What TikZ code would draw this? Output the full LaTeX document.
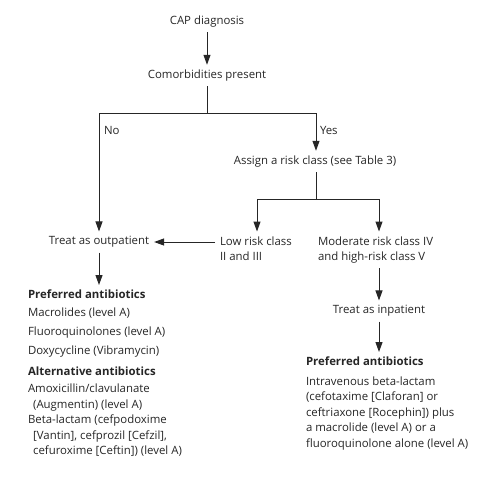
\documentclass[tikz,border=0pt]{standalone}
\usepackage{fontspec}
\setmainfont{Open Sans}
\usepackage{tikz}
\usetikzlibrary{arrows.meta,calc,positioning}
\definecolor{Ink}{HTML}{262626}

\begin{document}
\begin{tikzpicture}[x=1pt,y=-1pt,
    label text/.style={font=\fontsize{11.4}{15.5}\selectfont,text=Ink,inner sep=0pt,outer sep=0pt},
    step text/.style={label text,outer sep=5pt},
    block text/.style={label text,align=left,anchor=north west,outer sep=5pt},
    flow/.style={draw=Ink,line width=1pt,-{Triangle[length=10pt,width=7pt]}},
    link/.style={draw=Ink,line width=1pt}]
  \useasboundingbox (0,0) rectangle (500,479);

  \node[step text] (cap) at (207,21.5) {CAP diagnosis};
  \node[step text] (como) at (207,75.5) {Comorbidities present};
  \coordinate (split) at (207,113);
  \coordinate (noturn) at (99,113);
  \coordinate (yesturn) at (316,113);
  \node[label text,anchor=west] (no) at (104,130.5) {No};
  \node[label text,anchor=west] (yes) at (320,130.5) {Yes};
  \node[step text] (risk) at (315,161.5) {Assign a risk class (see Table 3)};
  \coordinate (riskfork) at (316,199);
  \coordinate (lowturn) at (257,199);
  \coordinate (modturn) at (379,199);

  \node[block text] (low) at (215,231.5) {Low risk class\\II and III};
  \node[block text] (mod) at (313,231.5) {Moderate risk class IV\\and high-risk class V};
  \node[step text] (outp) at (99,242) {Treat as outpatient};
  \node[step text] (inpat) at (379,311) {Treat as inpatient};

  \node[block text] (prefL) at (23,285)
    {\textbf{Preferred antibiotics}\\[2.5pt]
     Macrolides (level A)\\[3.5pt]
     Fluoroquinolones (level A)\\[3.5pt]
     Doxycycline (Vibramycin)\\[5.5pt]
     \textbf{Alternative antibiotics}\\[1.5pt]
     Amoxicillin/clavulanate\\
     \hspace*{0.45em}(Augmentin) (level A)\\
     Beta-lactam (cefpodoxime\\
     \hspace*{0.45em}[Vantin], cefprozil [Cefzil],\\
     \hspace*{0.45em}cefuroxime [Ceftin]) (level A)};
  \node[block text] (prefR) at (301,352)
    {\textbf{Preferred antibiotics}\\[4pt]
     Intravenous beta-lactam\\
     (cefotaxime [Claforan] or\\
     ceftriaxone [Rocephin]) plus\\
     a macrolide (level A) or a\\
     fluoroquinolone alone (level A)};

  \draw[flow] (cap) -- (como);
  \draw[link] (como) -- (split);
  \draw[link] (noturn) -- (yesturn);
  \draw[flow] (noturn) -- (outp);
  \draw[flow] (yesturn) -- (yesturn |- risk.north);
  \draw[link] (riskfork |- risk.south) -- (riskfork);
  \draw[link] (lowturn) -- (modturn);
  \draw[flow] (lowturn) -- (lowturn |- low.north);
  \draw[flow] (modturn) -- (modturn |- mod.north);
  \draw[flow] (low.west |- outp.east) -- (outp.east);
  \draw[flow] (outp) -- (outp.south |- prefL.north);
  \draw[flow] (inpat.north |- mod.south) -- (inpat);
  \draw[flow] (inpat) -- (inpat.south |- prefR.north);
\end{tikzpicture}
\end{document}
